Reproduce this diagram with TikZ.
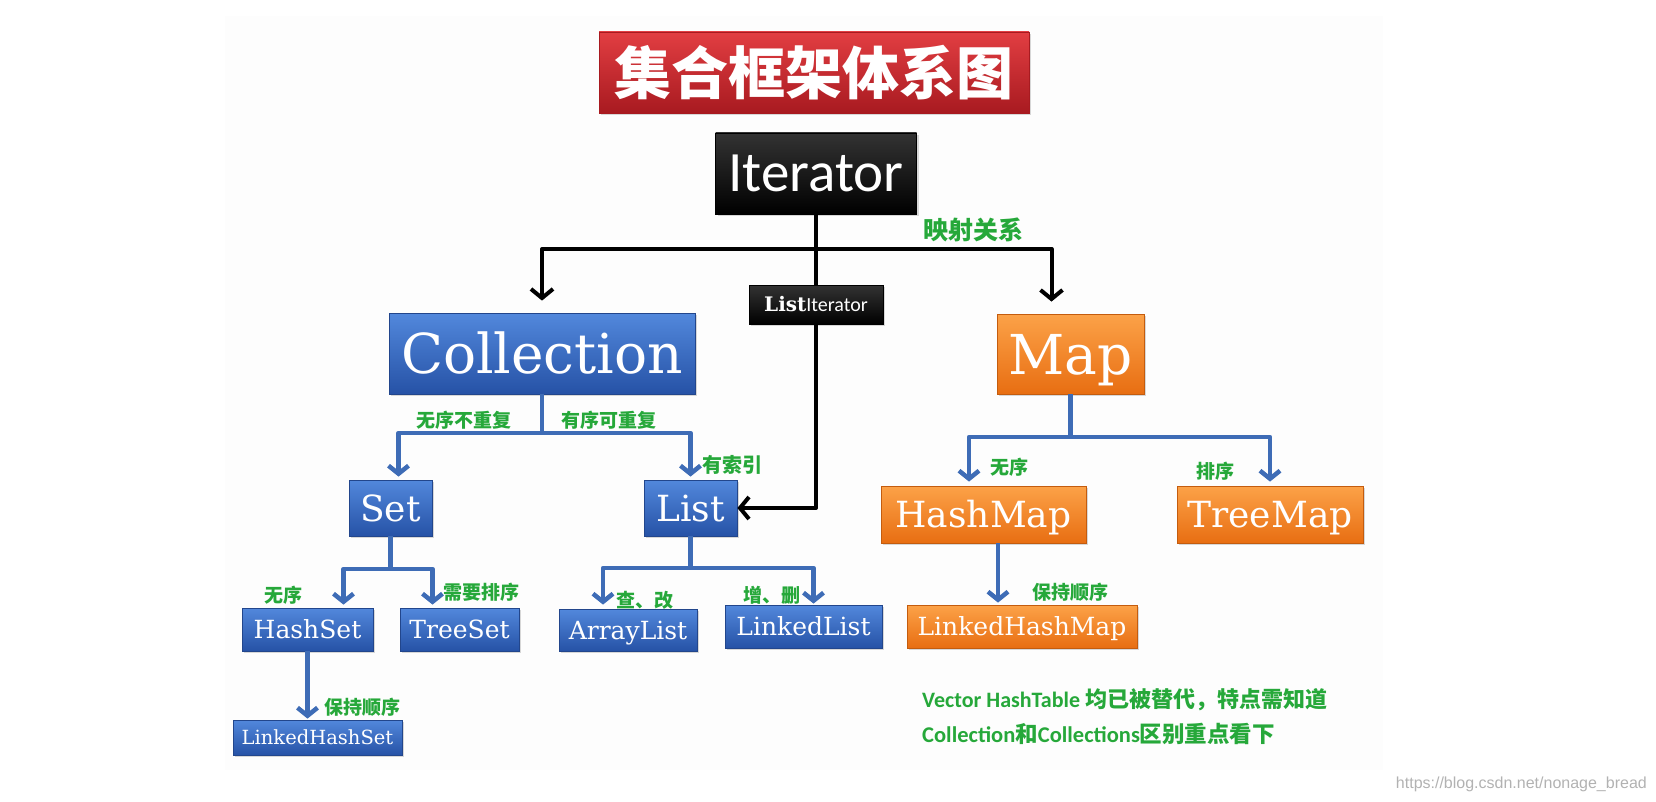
\documentclass[tikz,border=0pt]{standalone}
\usepackage{fontspec, tikz}
\usetikzlibrary{positioning, arrows.meta, shadows}

\setmainfont{DejaVu Serif}
\newfontfamily\cjk{Noto Sans CJK SC}
\newfontfamily\calfont{Carlito}
\newfontfamily\markfont{Liberation Sans}

\newcommand{\setfs}[1]{\fontsize{#1}{#1}\selectfont}
\newcommand{\boxtext}[2]{\setfs{#1}\vphantom{H}\smash{#2}}

\definecolor{paper}{RGB}{253,253,253}
\definecolor{bluetop}{RGB}{82,136,220}
\definecolor{bluebot}{RGB}{38,82,166}
\definecolor{blueedge}{RGB}{34,70,140}
\definecolor{orangetop}{RGB}{252,162,72}
\definecolor{orangebot}{RGB}{232,110,18}
\definecolor{orangeedge}{RGB}{196,92,14}
\definecolor{redtop}{RGB}{226,62,66}
\definecolor{redbot}{RGB}{168,26,32}
\definecolor{arrowblue}{RGB}{62,108,182}
\definecolor{labelgreen}{RGB}{38,168,58}

\begin{document}
\begin{tikzpicture}[x=1pt, y=-1pt,
    box/.style={inner sep=0pt, text=white, line width=0.8pt,
        drop shadow={opacity=0.3, shadow xshift=2pt, shadow yshift=-2pt}},
    bluebox/.style={box, draw=blueedge, top color=bluetop, bottom color=bluebot},
    orangebox/.style={box, draw=orangeedge, top color=orangetop, bottom color=orangebot},
    darkbox/.style={box, draw=black, top color=black!80, bottom color=black},
    redbox/.style={box, draw=redbot, top color=redtop, bottom color=redbot},
    greentag/.style={inner sep=0pt, text=labelgreen, font=\cjk\bfseries}]

    \useasboundingbox (0,0) rectangle (1656,802);
    \fill[paper] (225,16) rectangle (1383,770);

    % title and iterators
    \node[redbox, minimum width=430pt, minimum height=81pt] (Title) at (814,72.5)
        {\cjk\bfseries\setfs{57}集合框架体系图};
    \node[darkbox, minimum width=201pt, minimum height=81pt] (Iter) at (816,173.5)
        {\calfont\boxtext{57}{Iterator}};
    \node[darkbox, minimum width=134pt, minimum height=39pt] (ListIter) at (816,304.5)
        {\boxtext{20}{\bfseries List}\calfont\boxtext{20}{Iterator}};

    % collection side
    \node[bluebox, minimum width=306pt, minimum height=81pt] (Coll) at (542,353.5) {\boxtext{55}{Collection}};
    \node[bluebox, minimum width=83pt, minimum height=56pt]  (Set)  at (390.5,508) {\boxtext{36}{Set}};
    \node[bluebox, minimum width=93pt, minimum height=56pt]  (List) at (690.5,508) {\boxtext{36}{List}};
    \node[bluebox, minimum width=131pt, minimum height=43pt] (HSet) at (307.5,629.5) {\boxtext{25}{HashSet}};
    \node[bluebox, minimum width=119pt, minimum height=43pt] (TSet) at (459.5,629.5) {\boxtext{25}{TreeSet}};
    \node[bluebox, minimum width=138pt, minimum height=42pt] (AList) at (628,630) {\boxtext{25}{ArrayList}};
    \node[bluebox, minimum width=157pt, minimum height=43pt] (LList) at (803.5,626.5) {\boxtext{25}{LinkedList}};
    \node[bluebox, minimum width=169pt, minimum height=35pt] (LHSet) at (317.5,737.5) {\boxtext{19.5}{LinkedHashSet}};

    % map side
    \node[orangebox, minimum width=147pt, minimum height=80pt] (Map)  at (1070.5,354) {\boxtext{55}{Map}};
    \node[orangebox, minimum width=205pt, minimum height=57pt] (HMap) at (983.5,514.5) {\boxtext{36}{HashMap}};
    \node[orangebox, minimum width=186pt, minimum height=57pt] (TMap) at (1270,514.5) {\boxtext{36}{TreeMap}};
    \node[orangebox, minimum width=230pt, minimum height=43pt] (LHMap) at (1022,626.5) {\boxtext{25}{LinkedHashMap}};

    \begin{scope}[>={Straight Barb[length=9pt, width=22pt]}, line width=4pt, line join=round]
        \coordinate (itFork) at (816,249);
        \draw (Iter) -- (ListIter);
        \draw[->, shorten >=12pt] (itFork) -| (Coll.north);
        \draw[->, shorten >=12pt] (itFork) -| ([xshift=-19pt]Map.north);
        \draw[->] (ListIter) |- (List);
    \end{scope}

    \begin{scope}[>={Straight Barb[length=8pt, width=20pt]}, line width=4.5pt, line join=round, arrowblue]
        \coordinate (collFork) at (542,433);
        \coordinate (setFork)  at (390.5,569);
        \coordinate (listFork) at (690.5,568);
        \coordinate (mapFork)  at (1070.5,437);
        \coordinate (hmapOut)  at ([xshift=14.5pt]HMap.south);

        \draw (Coll) -- (collFork);
        \draw[->, shorten >=3pt] (collFork) -| ([xshift=8pt]Set.north);
        \draw[->, shorten >=3pt] (collFork) -| (List.north);

        \draw (Set) -- (setFork);
        \draw[->, shorten >=3pt] (setFork) -| ([xshift=36pt]HSet.north);
        \draw[->, shorten >=3pt] (setFork) -| ([xshift=-27pt]TSet.north);
        \draw[->, shorten >=1pt] (HSet) -- (HSet |- LHSet.north);

        \draw (List) -- (listFork);
        \draw[->, shorten >=4pt] (listFork) -| ([xshift=-25pt]AList.north);
        \draw[->, shorten >=1pt] (listFork) -| ([xshift=10pt]LList.north);

        \draw (Map) -- (mapFork);
        \draw[->, shorten >=4pt] (mapFork) -| ([xshift=-14.5pt]HMap.north);
        \draw[->, shorten >=4pt] (mapFork) -| (TMap.north);
        \draw[->, shorten >=2pt] (hmapOut) -- (hmapOut |- LHMap.north);
    \end{scope}

    \begin{scope}[every node/.style={greentag}]
        \node (MapRel)   at (973,230)    {\setfs{25}映射关系};
        \node (NoDup)    at (464,420)    {\setfs{19}无序不重复};
        \node (Dup)      at (608.5,420)  {\setfs{19}有序可重复};
        \node (Indexed)  at (732,465)    {\setfs{20}有索引};
        \node (SetFree)  at (283.5,595)  {\setfs{19}无序};
        \node (SetSort)  at (481.5,592)  {\setfs{19}需要排序};
        \node (SetKeep)  at (362.5,707)  {\setfs{19}保持顺序};
        \node (AListUse) at (645,600)    {\setfs{19}查、改};
        \node (LListUse) at (771.5,595)  {\setfs{19}增、删};
        \node (MapFree)  at (1009,467)   {\setfs{19}无序};
        \node (MapSort)  at (1215,471)   {\setfs{19}排序};
        \node (MapKeep)  at (1070,592)   {\setfs{19}保持顺序};
    \end{scope}

    \node[anchor=west, text=labelgreen, inner sep=0pt] (Note1) at (922,700)
        {\setfs{22}{\calfont\bfseries Vector HashTable }{\cjk\bfseries 均已被替代，特点需知道}};
    \node[below = 34pt of Note1.west, anchor=west, text=labelgreen, inner sep=0pt] (Note2)
        {\setfs{22.5}{\calfont\bfseries Collection}{\cjk\bfseries 和}{\calfont\bfseries Collections}{\cjk\bfseries 区别重点看下}};
    \node[anchor=east, text=black!30, inner sep=0pt] (Mark) at (1647,784)
        {\markfont\setfs{16}https://blog.csdn.net/nonage\_bread};
\end{tikzpicture}
\end{document}
